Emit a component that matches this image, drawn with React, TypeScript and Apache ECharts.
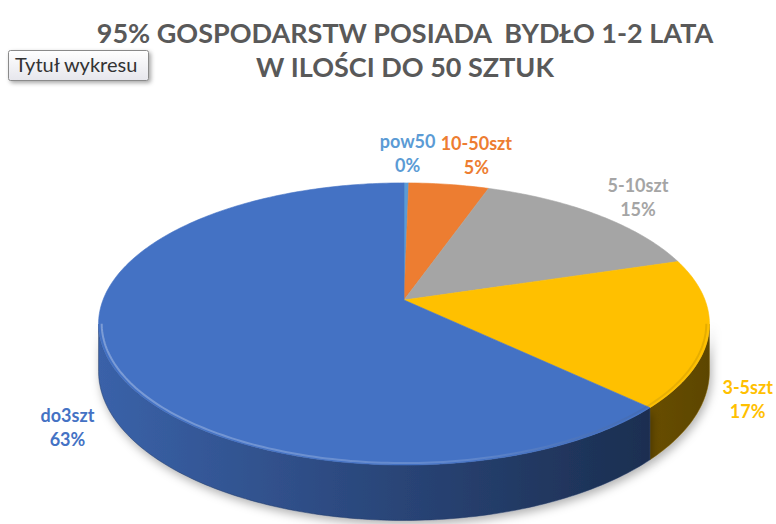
import React, { useEffect, useRef } from 'react';
import * as echarts from 'echarts';

const categories = ['pow50', '10-50szt', '5-10szt', '3-5szt', 'do3szt'];
const values = [0.3, 5, 15, 17, 63];
const titleText = '95% GOSPODARSTW POSIADA  BYDŁO 1-2 LATA\nW ILOŚCI DO 50 SZTUK';
const placeholderTitle = 'Tytuł wykresu';
const palette = ['#5B9BD5', '#ED7D31', '#A5A5A5', '#FFC000', '#4472C4'];

// layout of the 3D pie (pixels)
const CX = 404;
const CY = 300;
const RX = 301;
const RY = 137;
const K = 0.17; // perspective
const DEPTH = 46;
const FONT = 'Lato, "Open Sans", sans-serif';
const LABEL_FONT = `bold 18px ${FONT}`;
const LABEL_GAP = 14;

function proj(t: number, r: number, dz: number): [number, number] {
  const u = r * Math.sin(t);
  const v = -r * Math.cos(t);
  const d = 1 - K * v;
  return [CX + (RX * u) / d, CY + (RY * v) / d + (DEPTH * dz) / d];
}

function shade(hex: string, f: number): string {
  const n = parseInt(hex.slice(1), 16);
  const r = Math.round(((n >> 16) & 255) * f);
  const g = Math.round(((n >> 8) & 255) * f);
  const b = Math.round((n & 255) * f);
  return `rgb(${r},${g},${b})`;
}

function arc(a: number, b: number, r: number, dz: number): [number, number][] {
  const steps = Math.max(2, Math.ceil(((b - a) / (Math.PI * 2)) * 360));
  const pts: [number, number][] = [];
  for (let i = 0; i <= steps; i++) {
    pts.push(proj(a + ((b - a) * i) / steps, r, dz));
  }
  return pts;
}

let measureCtx: CanvasRenderingContext2D | null = null;
function textWidth(s: string, font: string): number {
  if (!measureCtx) measureCtx = document.createElement('canvas').getContext('2d');
  if (!measureCtx) return s.length * 9;
  measureCtx.font = font;
  return measureCtx.measureText(s).width;
}

export default function App() {
  const ref = useRef<HTMLDivElement>(null);
  useEffect(() => {
    if (!ref.current) return;
    const chart = echarts.init(ref.current, null, { renderer: 'svg' });
    const total = values.reduce((s, v) => s + v, 0);
    let acc = 0;
    const data = values.map((v, i) => {
      const s = acc / total;
      acc += v;
      return { name: categories[i], value: [i, s, acc / total, v] };
    });
    const T1 = Math.acos(-K);
    const T2 = Math.PI * 2 - T1;

    const renderItem = (params: any, api: any) => {
      const i = api.value(0);
      const a = api.value(1) * Math.PI * 2;
      const b = api.value(2) * Math.PI * 2;
      const val = api.value(3);
      const color = palette[i];
      const children: any[] = [];
      const lo = Math.max(a, T1);
      const hi = Math.min(b, T2);
      if (lo < hi) {
        const top = arc(lo, hi, 1, 0);
        const bot = arc(lo, hi, 1, 1).reverse();
        children.push({
          type: 'polygon',
          z2: 1,
          shape: { points: top.concat(bot) },
          style: {
            fill: {
              type: 'linear',
              x: CX - RX * 1.02,
              y: 0,
              x2: CX + RX * 1.02,
              y2: 0,
              global: true,
              colorStops: [
                { offset: 0, color: shade(color, 0.86) },
                { offset: 0.5, color: shade(color, 0.6) },
                { offset: 1, color: shade(color, 0.36) },
              ],
            },
            stroke: shade(color, 0.5),
            lineWidth: 0.5,
            shadowBlur: 10,
            shadowOffsetX: 2,
            shadowOffsetY: 4,
            shadowColor: 'rgba(0,0,0,0.3)',
          },
        });
        children.push({
          type: 'polyline',
          z2: 3,
          shape: { points: arc(lo, hi, 0.99, 0) },
          style: {
            fill: null,
            lineWidth: 2,
            stroke: {
              type: 'linear',
              x: CX - RX,
              y: 0,
              x2: CX + RX,
              y2: 0,
              global: true,
              colorStops: [
                { offset: 0, color: 'rgba(255,255,255,0.3)' },
                { offset: 0.6, color: 'rgba(255,255,255,0.15)' },
                { offset: 1, color: 'rgba(0,0,0,0.1)' },
              ],
            },
          },
        });
      }
      children.push({
        type: 'polygon',
        z2: 2,
        shape: { points: [[CX, CY] as [number, number]].concat(arc(a, b, 1, 0)) },
        style: { fill: color, stroke: color, lineWidth: 0.6 },
      });
      // label, placed outside the edge of the slice (front labels beside the wall)
      const m = (a + b) / 2;
      const u = Math.sin(m);
      const v = -Math.cos(m);
      const front = v > 0;
      const edge = proj(m, 1, front ? 1 : 0);
      const pct = Math.round((val / total) * 100);
      const line1 = categories[i];
      const line2 = `${pct}%`;
      const halfW = Math.max(textWidth(line1, LABEL_FONT), textWidth(line2, LABEL_FONT)) / 2;
      const lx = edge[0] + LABEL_GAP * u + Math.sign(u) * Math.min(1, Math.abs(u) * 4) * halfW;
      const ly = edge[1] + LABEL_GAP * v + (front ? 15 : -16 * v * v);
      children.push({
        type: 'text',
        z2: 4,
        x: lx,
        y: ly,
        style: {
          text: `${line1}\n${line2}`,
          fill: color,
          font: LABEL_FONT,
          align: 'center',
          verticalAlign: 'middle',
          lineHeight: 24,
        },
      });
      return { type: 'group', children };
    };

    chart.setOption({
      animation: false,
      backgroundColor: '#ffffff',
      title: {
        text: titleText,
        left: CX - 4,
        top: 10,
        textAlign: 'center',
        textStyle: {
          fontFamily: FONT,
          fontSize: 27,
          fontWeight: 'bold',
          color: '#595959',
          lineHeight: 34,
        },
      },
      graphic: [
        {
          type: 'rect',
          left: 8,
          top: 50,
          shape: { width: 140, height: 30, r: 2 },
          style: {
            fill: {
              type: 'linear',
              x: 0,
              y: 0,
              x2: 0,
              y2: 1,
              colorStops: [
                { offset: 0, color: '#ffffff' },
                { offset: 1, color: '#e6e6ec' },
              ],
            },
            stroke: '#8a8a8a',
            lineWidth: 1,
            shadowBlur: 4,
            shadowOffsetX: 2,
            shadowOffsetY: 2,
            shadowColor: 'rgba(0,0,0,0.35)',
          },
        },
        {
          type: 'text',
          left: 15,
          top: 54,
          style: {
            text: placeholderTitle,
            fill: '#333333',
            font: `20px ${FONT}`,
          },
        },
      ],
      series: [
        {
          type: 'custom',
          coordinateSystem: 'none',
          renderItem,
          data,
        },
      ],
    });
    return () => chart.dispose();
  }, []);
  return (
    <div
      ref={ref}
      style={{ position: 'fixed', left: 0, top: 0, width: 776, height: 524 }}
    />
  );
}
